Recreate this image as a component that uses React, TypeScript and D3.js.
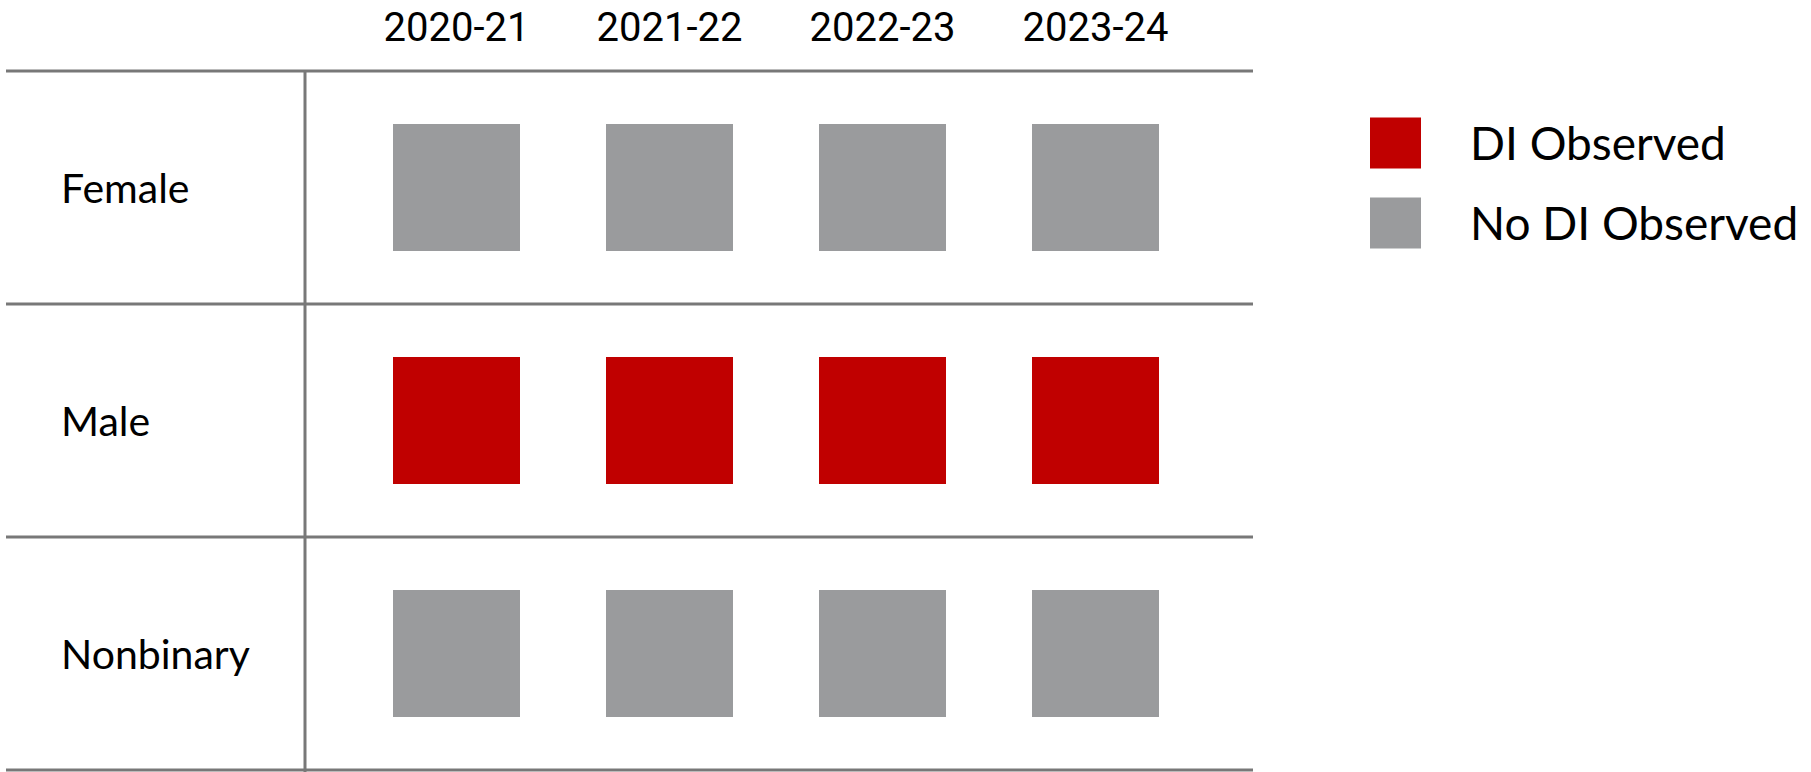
import React, { useEffect, useRef } from "react";
import * as d3 from "d3";

const years: string[] = ["2020-21", "2021-22", "2022-23", "2023-24"];
const groups: string[] = ["Female", "Male", "Nonbinary"];
// 1 = DI Observed, 0 = No DI Observed
const femaleValues: number[] = [0, 0, 0, 0];
const maleValues: number[] = [1, 1, 1, 1];
const nonbinaryValues: number[] = [0, 0, 0, 0];
const legendLabels: string[] = ["DI Observed", "No DI Observed"];
const legendKeys: number[] = [1, 0];

const W = 1811;
const H = 772;

export default function App() {
  const ref = useRef<SVGSVGElement | null>(null);

  useEffect(() => {
    const svg = d3.select(ref.current);
    svg.selectAll("*").remove();

    const seriesByGroup: number[][] = [femaleValues, maleValues, nonbinaryValues];
    const cells = groups.flatMap((g, gi) =>
      years.map((y, yi) => ({ group: g, year: y, value: seriesByGroup[gi][yi] }))
    );

    const color = d3.scaleOrdinal<number, string>().domain([1, 0]).range(["#C00000", "#9A9B9D"]);

    const x = d3.scaleBand<string>().domain(years).range([350, 1202]).padding(0);
    const y = d3.scaleBand<string>().domain(groups).range([71, 770]).padding(0);
    const sq = 127;
    const lineColor = "#787878";

    // horizontal grid lines
    const hLines = [71, ...groups.map((g) => (y(g) as number) + y.bandwidth())];
    svg
      .append("g")
      .selectAll("line")
      .data(hLines)
      .join("line")
      .attr("x1", 6)
      .attr("x2", 1253)
      .attr("y1", (d) => d)
      .attr("y2", (d) => d)
      .attr("stroke", lineColor)
      .attr("stroke-width", 3);

    // vertical separator
    svg
      .append("line")
      .attr("x1", 305)
      .attr("x2", 305)
      .attr("y1", 71)
      .attr("y2", 772)
      .attr("stroke", lineColor)
      .attr("stroke-width", 3);

    // column headers
    svg
      .append("g")
      .selectAll("text")
      .data(years)
      .join("text")
      .attr("x", (d) => (x(d) as number) + x.bandwidth() / 2)
      .attr("y", 40.5)
      .attr("text-anchor", "middle")
      .attr("font-family", "Roboto")
      .attr("font-size", 40)
      .attr("fill", "#000")
      .text((d) => d);

    // row labels
    svg
      .append("g")
      .selectAll("text")
      .data(groups)
      .join("text")
      .attr("x", 61)
      .attr("y", (d) => (y(d) as number) + y.bandwidth() / 2 + 15)
      .attr("font-family", "Lato")
      .attr("font-size", 41)
      .attr("fill", "#000")
      .text((d) => d);

    // cells
    svg
      .append("g")
      .selectAll("rect")
      .data(cells)
      .join("rect")
      .attr("x", (d) => (x(d.year) as number) + x.bandwidth() / 2 - sq / 2)
      .attr("y", (d) => (y(d.group) as number) + y.bandwidth() / 2 - sq / 2)
      .attr("width", sq)
      .attr("height", sq)
      .attr("fill", (d) => color(d.value));

    // legend
    const lg = svg.append("g");
    const ly = d3.scaleBand<string>().domain(legendLabels).range([103, 263]).padding(0);
    lg.selectAll("rect")
      .data(legendLabels)
      .join("rect")
      .attr("x", 1370)
      .attr("y", (d) => (ly(d) as number) + ly.bandwidth() / 2 - 25.5)
      .attr("width", 51)
      .attr("height", 51)
      .attr("fill", (d, i) => color(legendKeys[i]));
    lg.selectAll("text")
      .data(legendLabels)
      .join("text")
      .attr("x", 1470)
      .attr("y", (d) => (ly(d) as number) + ly.bandwidth() / 2 + 16.5)
      .attr("font-family", "Lato")
      .attr("font-size", 46)
      .attr("fill", "#000")
      .text((d) => d);
  }, []);

  return (
    <svg
      ref={ref}
      width={W}
      height={H}
      viewBox={`0 0 ${W} ${H}`}
      style={{ position: "absolute", left: 0, top: 0, background: "#fff" }}
    />
  );
}
